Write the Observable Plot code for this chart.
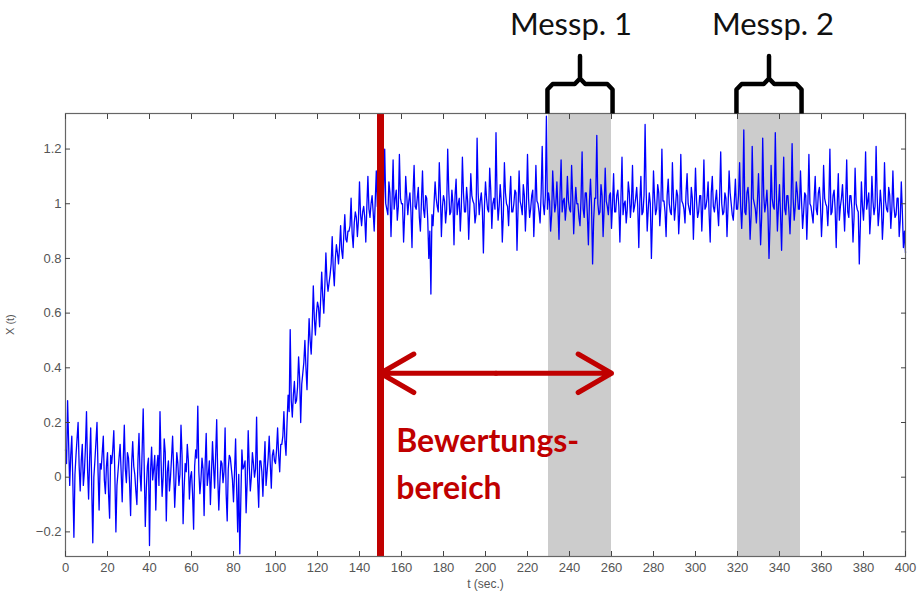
<!DOCTYPE html>
<html>
<head>
<meta charset="utf-8">
<script src="https://cdn.jsdelivr.net/npm/d3@7"></script>
<script src="https://cdn.jsdelivr.net/npm/@observablehq/plot@0.6"></script>
<style>
  html, body { margin: 0; padding: 0; background: #fff; }
  #chart svg { display: block; }
</style>
</head>
<body>
<div id="chart"></div>
<script>
// ---- data ----
// samples at whole seconds, t = 0 … 400
const signal = [
  0.10, 0.28, -0.03, 0.15, -0.22, 0.08, 0.20, -0.05, 0.12, 0.02,
  0.24, -0.08, 0.18, -0.24, 0.06, 0.20, -0.12, 0.03, 0.15, -0.06,
  0.09, -0.15, 0.05, 0.17, -0.20, 0.02, 0.12, -0.09, 0.19, -0.02,
  0.07, -0.14, 0.13, 0.01, -0.10, 0.16, -0.05, 0.25, -0.18, 0.04,
  -0.25, 0.11, 0.03, -0.12, 0.08, 0.24, -0.07, 0.14, -0.16, 0.06,
  0.00, 0.15, -0.11, 0.09, -0.03, 0.19, -0.17, 0.05, 0.12, -0.08,
  0.02, -0.19, 0.10, 0.26, -0.06, 0.07, -0.14, 0.16, 0.01, -0.10,
  0.13, -0.04, 0.21, -0.12, 0.06, -0.02, 0.18, -0.16, 0.08, 0.03,
  -0.09, 0.14, -0.20, -0.28, 0.10, 0.04, -0.13, 0.17, -0.05, 0.09,
  0.00, 0.22, -0.11, 0.06, -0.07, 0.13, 0.02, 0.15, -0.04, 0.10,
  0.05, 0.18, 0.02, 0.12, 0.24, 0.08, 0.30, 0.54, 0.22, 0.35,
  0.28, 0.44, 0.20, 0.38, 0.50, 0.32, 0.58, 0.45, 0.70, 0.52,
  0.64, 0.55, 0.75, 0.60, 0.82, 0.68, 0.74, 0.88, 0.70, 0.85,
  0.78, 0.92, 0.80, 0.96, 0.86, 0.90, 1.02, 0.84, 0.97, 0.88,
  1.08, 0.92, 0.99, 0.86, 1.10, 0.95, 1.03, 0.90, 1.12, 1.00,
  1.06, 0.92, 1.20, 0.98, 1.08, 0.88, 1.16, 1.02, 0.94, 1.18,
  1.00, 0.86, 1.10, 0.96, 1.04, 0.84, 1.14, 0.98, 1.06, 0.90,
  1.12, 0.95, 1.02, 0.80, 0.67, 0.92, 1.08, 0.99, 1.15, 0.88,
  1.03, 0.93, 1.20, 0.96, 1.05, 0.85, 1.09, 1.00, 0.90, 1.17,
  0.97, 1.06, 0.87, 1.11, 1.01, 0.93, 1.24, 0.96, 1.04, 0.82,
  1.08, 0.98, 1.13, 0.91, 1.02, 1.26, 0.94, 1.07, 0.86, 1.15,
  1.00, 0.92, 1.10, 0.97, 1.05, 0.83, 1.12, 0.99, 1.07, 0.90,
  1.18, 0.95, 1.03, 0.88, 1.14, 1.00, 0.93, 1.21, 0.96, 1.32,
  1.04, 0.90, 1.12, 0.97, 1.08, 0.87, 1.16, 1.01, 0.94, 1.10,
  0.98, 1.14, 0.89, 1.06, 1.00, 0.92, 1.19, 0.95, 1.04, 0.85,
  1.09, 0.78, 1.02, 1.25, 0.96, 1.07, 0.88, 1.13, 0.99, 1.03,
  0.91, 1.11, 0.97, 1.05, 0.86, 1.17, 1.00, 0.93, 1.08, 0.95,
  1.14, 0.99, 1.06, 0.84, 1.10, 0.97, 1.29, 0.90, 1.04, 0.80,
  1.12, 0.96, 1.07, 0.92, 1.20, 1.01, 0.88, 1.09, 0.97, 1.15,
  0.94, 1.05, 0.89, 1.18, 1.00, 0.93, 1.11, 0.98, 1.06, 0.87,
  1.13, 0.95, 1.03, 0.90, 1.16, 0.99, 1.08, 0.86, 1.10, 0.97,
  1.05, 0.92, 1.19, 0.96, 1.04, 0.88, 1.12, 1.00, 0.94, 1.09,
  0.98, 1.15, 0.91, 1.27, 0.96, 1.06, 0.87, 1.21, 1.00, 0.93,
  1.11, 0.85, 1.24, 0.97, 1.05, 0.80, 1.14, 0.99, 1.26, 0.90,
  1.07, 0.83, 1.17, 0.96, 1.03, 0.89, 1.22, 0.94, 1.08, 0.98,
  1.12, 0.91, 1.04, 0.87, 1.18, 0.99, 0.93, 1.10, 0.96, 1.06,
  0.88, 1.14, 1.00, 0.92, 1.20, 0.97, 1.05, 0.84, 1.11, 0.99,
  1.07, 0.90, 1.16, 0.95, 1.03, 0.86, 1.13, 0.98, 0.78, 1.08,
  0.94, 1.19, 1.01, 0.89, 1.10, 0.96, 1.21, 0.92, 1.05, 0.87,
  1.15, 0.98, 1.06, 0.91, 1.12, 0.95, 1.02, 0.88, 1.08, 0.84,
  0.82
];
// samples at half seconds, t = 0.5 … 399.5
const signalHalf = [
  0.05, 0.12, 0.08, -0.02, 0.01, 0.14, 0.04, 0.06, -0.03, 0.11,
  0.03, 0.07, -0.04, 0.00, 0.13, 0.02, 0.05, 0.09, -0.01, 0.04,
  -0.06, 0.08, 0.10, 0.01, -0.03, 0.07, 0.02, 0.06, 0.03, 0.09,
  -0.02, 0.05, 0.04, -0.05, 0.06, 0.01, 0.10, 0.03, -0.04, 0.07,
  0.02, -0.01, 0.08, 0.04, -0.03, 0.06, 0.00, 0.09, 0.02, -0.05,
  0.07, 0.03, -0.02, 0.05, 0.01, 0.08, -0.04, 0.02, 0.06, 0.00,
  -0.06, 0.04, 0.07, 0.02, -0.01, 0.03, 0.05, -0.03, 0.06, 0.01,
  0.04, 0.08, 0.00, -0.02, 0.05, 0.02, -0.06, 0.03, 0.07, -0.01,
  0.02, -0.04, 0.01, -0.08, 0.03, 0.06, -0.02, 0.04, 0.00, 0.05,
  0.03, -0.01, 0.06, 0.02, 0.04, -0.03, 0.07, 0.05, 0.08, 0.06,
  0.10, 0.08, 0.12, 0.15, 0.13, 0.20, 0.24, 0.28, 0.30, 0.27,
  0.33, 0.36, 0.34, 0.42, 0.40, 0.46, 0.50, 0.55, 0.58, 0.60,
  0.62, 0.65, 0.66, 0.70, 0.72, 0.71, 0.78, 0.76, 0.80, 0.82,
  0.84, 0.83, 0.88, 0.87, 0.90, 0.92, 0.89, 0.93, 0.95, 0.94,
  0.96, 0.97, 0.95, 0.99, 0.98, 1.00, 0.97, 1.01, 0.99, 1.02,
  0.97, 1.03, 1.00, 0.96, 1.04, 1.01, 0.98, 1.05, 0.99, 1.02,
  1.00, 0.96, 1.03, 1.01, 0.97, 1.04, 0.99, 1.02, 0.95, 1.01,
  0.98, 1.03, 0.94, 0.90, 0.96, 1.00, 1.02, 0.97, 1.04, 0.99,
  1.01, 0.98, 1.05, 0.97, 1.00, 1.03, 0.96, 1.02, 0.99, 1.04,
  0.97, 1.01, 0.98, 1.03, 1.00, 0.96, 1.04, 1.01, 0.98, 0.99,
  1.02, 0.97, 1.05, 1.00, 0.98, 1.03, 0.99, 1.01, 0.96, 1.04,
  0.99, 1.02, 0.97, 1.00, 1.04, 0.98, 1.01, 0.96, 1.03, 1.00,
  1.02, 0.98, 1.05, 0.99, 1.01, 0.97, 1.04, 1.00, 1.03, 0.98,
  1.01, 0.96, 1.03, 1.00, 0.98, 1.04, 0.97, 1.02, 0.99, 1.01,
  0.97, 1.03, 0.99, 1.00, 0.95, 1.02, 0.98, 1.04, 0.96, 1.01,
  0.99, 0.94, 1.02, 1.00, 0.97, 1.03, 0.98, 1.01, 0.96, 1.04,
  1.00, 0.97, 1.03, 0.99, 1.02, 0.96, 1.01, 0.98, 1.04, 1.00,
  0.97, 1.02, 0.99, 1.01, 0.96, 1.03, 1.05, 0.98, 1.00, 0.95,
  1.02, 0.98, 1.04, 0.99, 1.01, 0.97, 1.03, 1.00, 0.96, 1.02,
  0.99, 1.03, 0.97, 1.01, 0.98, 1.04, 1.00, 0.96, 1.02, 0.99,
  1.01, 0.97, 1.03, 1.00, 0.98, 1.02, 0.96, 1.04, 0.99, 1.01,
  0.98, 1.03, 1.00, 0.97, 1.02, 0.99, 1.04, 0.96, 1.01, 0.98,
  1.03, 0.99, 1.01, 0.97, 1.04, 1.00, 0.96, 1.02, 0.98, 1.01,
  0.99, 0.95, 1.03, 1.00, 0.97, 0.93, 1.02, 0.98, 1.04, 0.99,
  0.96, 1.01, 0.98, 1.03, 0.97, 1.00, 1.02, 0.99, 1.04, 0.98,
  1.01, 0.97, 1.03, 0.99, 1.00, 0.96, 1.02, 0.98, 1.04, 1.00,
  0.97, 1.02, 0.99, 1.01, 0.96, 1.03, 0.98, 1.00, 0.94, 1.02,
  0.99, 1.01, 0.97, 1.03, 0.98, 0.95, 1.00, 0.97, 0.92, 0.99,
  1.02, 0.98, 1.04, 0.96, 1.01, 0.99, 1.03, 0.97, 1.00, 0.95,
  1.01, 0.97, 1.03, 0.98, 0.99, 0.96, 1.02, 0.94, 0.97, 0.90
];

const xTicks = [0, 20, 40, 60, 80, 100, 120, 140, 160, 180, 200, 220, 240, 260, 280, 300, 320, 340, 360, 380, 400];
const yTicks = [-0.2, 0, 0.2, 0.4, 0.6, 0.8, 1, 1.2];

const bandStart = [230, 320];
const bandEnd = [260, 350];
const bandLabels = ["Messp. 1", "Messp. 2"];
const bandLabelCenters = [240.7, 336.9];

const evalStart = 150;
const evalEnd = 260;
const evalArrowLevel = 0.38;
const evalLabelLines = ["Bewertungs-", "bereich"];

const xLabel = "t (sec.)";
const yLabel = "X (t)";

// ---- derived tables ----
const series = [
  ...signal.map((v, i) => ({t: i, v})),
  ...signalHalf.map((v, i) => ({t: i + 0.5, v}))
].sort((a, b) => a.t - b.t);
const bands = bandStart.map((s, i) => ({start: s, end: bandEnd[i], label: bandLabels[i], labelX: bandLabelCenters[i], mid: (s + bandEnd[i]) / 2}));

const yDomain = [-0.29, 1.33];
const red = "#c00000";

// brace outline above each band (in scale space)
const Y0 = yDomain[1], Yh = 1.438, Yt = 1.54, ry = 0.02, rx = 2.5;
const braces = bands.flatMap((b, k) => {
  const a = b.start - 0.5, c = b.end + 0.5, m = b.mid;
  return [
    [a, Y0], [a, Yh - ry], [a + rx, Yh], [m - rx, Yh], [m, Yh + ry], [m, Yt],
    [m, Yh + ry], [m + rx, Yh], [c - rx, Yh], [c, Yh - ry], [c, Y0]
  ].map(([x, y]) => ({x, y, k}));
});

const evalText = evalLabelLines.map((s, i) => ({s, y: i === 0 ? 0.131 : -0.041}));
const evalMid = (evalStart + evalEnd) / 2;
const fmt = d3.format("~g");

const chart = Plot.plot({
  width: 919,
  height: 594,
  marginLeft: 65,
  marginRight: 14,
  marginTop: 113,
  marginBottom: 38,
  style: {background: "#fff", fontFamily: "Liberation Sans, Arial, sans-serif"},
  x: {domain: [0, 400]},
  y: {domain: yDomain},
  marks: [
    Plot.rect(bands, {x1: "start", x2: "end", fill: "#cccccc"}),
    Plot.line(series, {x: "t", y: "v", stroke: "#0000ff", strokeWidth: 1.3}),
    Plot.ruleX([evalStart], {stroke: red, strokeWidth: 7}),
    Plot.frame({stroke: "#666", strokeWidth: 1.2}),
    Plot.axisX(xTicks, {anchor: "bottom", tickSize: -5, tickPadding: 11, fontSize: 13, fill: "#555", stroke: "#444", label: null, tickFormat: fmt}),
    Plot.axisX(xTicks, {anchor: "top", tickSize: -5, tickFormat: () => "", stroke: "#444", label: null}),
    Plot.axisY(yTicks, {anchor: "left", tickSize: -5, tickPadding: 9, fontSize: 13, fill: "#555", stroke: "#444", label: null, tickFormat: fmt}),
    Plot.axisY(yTicks, {anchor: "right", tickSize: -5, tickFormat: () => "", stroke: "#444", label: null}),
    Plot.text([xLabel], {frameAnchor: "bottom", dy: 31, fontSize: 12, fill: "#555"}),
    Plot.text([yLabel], {frameAnchor: "left", dx: -55, rotate: -90, fontSize: 11, fill: "#555"}),
    Plot.arrow([{x1: evalMid, x2: evalEnd}, {x1: evalMid, x2: evalStart}], {
      x1: "x1", x2: "x2", y1: evalArrowLevel, y2: evalArrowLevel,
      stroke: red, strokeWidth: 5, headLength: 34, headAngle: 60
    }),
    Plot.text(evalText, {x: evalStart + 7.5, y: "y", text: "s", textAnchor: "start",
      fontSize: 32, fontWeight: "bold", fill: red, fontFamily: "Lato, Open Sans, sans-serif", letterSpacing: "0.5px"}),
    Plot.line(braces, {x: "x", y: "y", z: "k", stroke: "#000", strokeWidth: 4.5, strokeLinejoin: "round", strokeLinecap: "butt"}),
    Plot.text(bands, {x: "labelX", y: 1.654, text: "label", fontSize: 31, fill: "#111",
      fontFamily: "Lato, Open Sans, sans-serif", letterSpacing: "1px"})
  ]
});
document.getElementById("chart").append(chart);
</script>
</body>
</html>
